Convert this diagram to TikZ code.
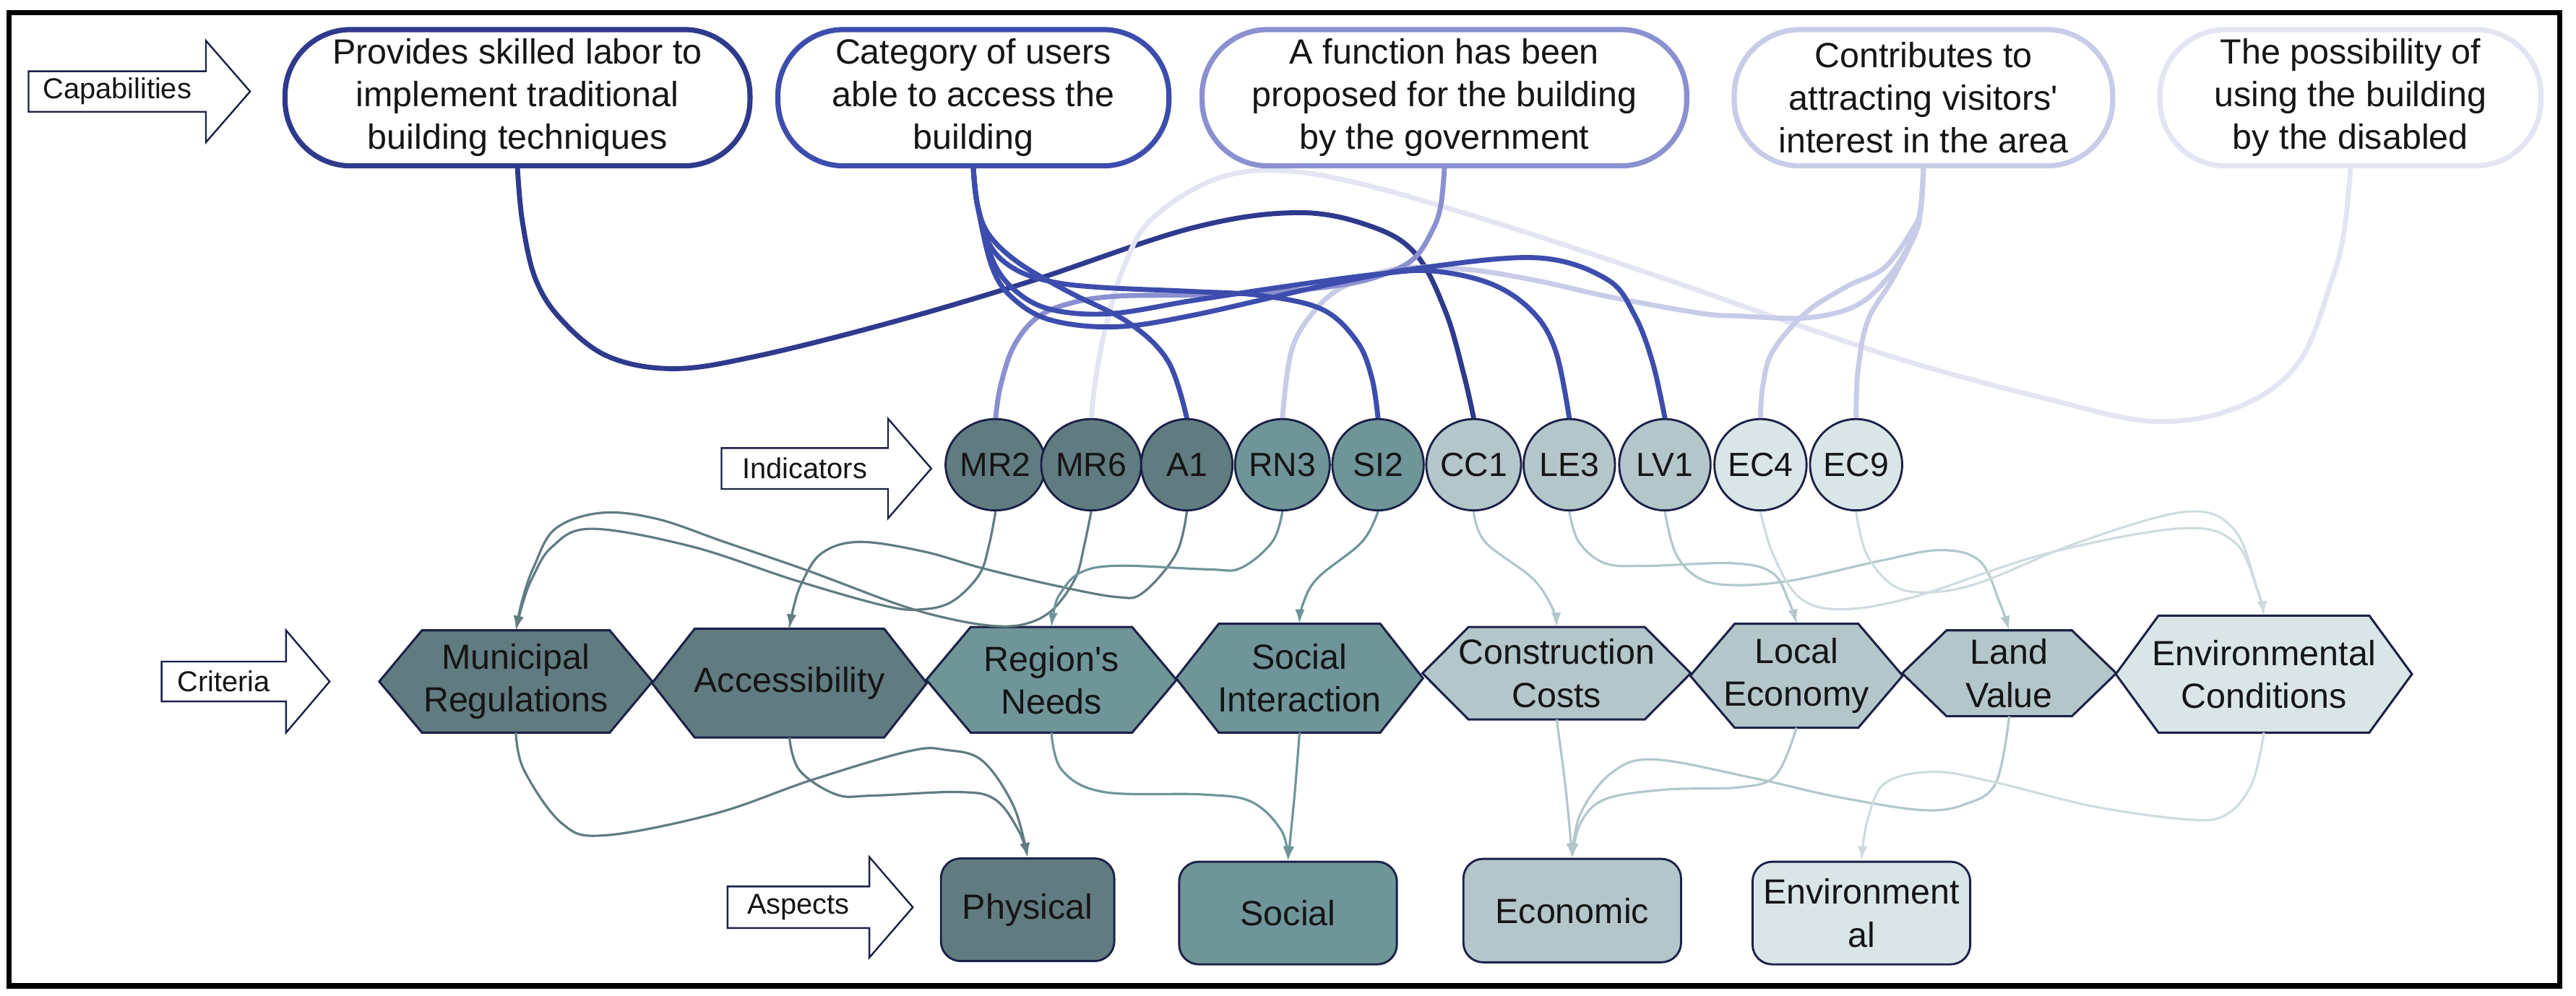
\documentclass[tikz,border=0pt]{standalone}
\usepackage{fontspec}
\setmainfont{Liberation Sans}
\usetikzlibrary{arrows.meta,shapes.geometric,backgrounds}
\definecolor{capA}{HTML}{2E3A8C}
\definecolor{capB}{HTML}{3C4DAD}
\definecolor{capC}{HTML}{8A90D0}
\definecolor{capD}{HTML}{C9CCE8}
\definecolor{capE}{HTML}{E4E5F3}
\definecolor{tDark}{HTML}{617C81}
\definecolor{tTeal}{HTML}{6F9599}
\definecolor{tLight}{HTML}{B3C7CB}
\definecolor{tPale}{HTML}{DAE5E7}
\definecolor{ePale}{HTML}{CFDCDF}
\definecolor{outl}{HTML}{1B2147}
\definecolor{txt}{HTML}{151515}
\tikzset{
  captxt/.style={font=\fontsize{30.3pt}{37pt}\selectfont, text=txt, align=center, inner sep=0pt},
  capbox/.style={captxt, draw=#1, fill=white, line width=4.5pt, rounded corners=20mm, minimum height=41.5mm},
  indic/.style={ellipse, draw=outl, line width=1.8pt, fill=#1, minimum width=27.8mm, minimum height=27.8mm, inner sep=0pt, font=\fontsize{29pt}{35pt}\selectfont, text=txt},
  critbox/.style={captxt},
  aspbox/.style={captxt, draw=outl, line width=1.8pt, fill=#1, rounded corners=6mm},
  lblline/.style={draw=outl, line width=1.5pt, line join=miter},
  lbltxt/.style={font=\fontsize{24.9pt}{30pt}\selectfont, text=txt, inner sep=0pt},
  topedge/.style={draw=#1, line width=4.3pt, line cap=round},
  midedge/.style={draw=#1, line width=2pt, -{Latex[length=12.5pt,width=8.5pt]}},
}
\newcommand\hexfill[3]{%
  \begin{pgfonlayer}{background}
  \draw[draw=outl, line width=1.9pt, fill=#3] (#1.west) -- ([xshift=#2]#1.north west) -- ([xshift=-#2]#1.north east) -- (#1.east) -- ([xshift=-#2]#1.south east) -- ([xshift=#2]#1.south west) -- cycle;
  \end{pgfonlayer}}
\newcommand\lblarrow[3]{%
  \draw[lblline] (#1.north west) -- (#1.north east) -- ([yshift=#2]#1.north east) -- ([xshift=#3]#1.east) -- ([yshift=-#2]#1.south east) -- (#1.south east) -- (#1.south west) -- cycle;}
\begin{document}
\begin{tikzpicture}[x=0.5mm, y=-0.5mm]
\useasboundingbox (0,0) rectangle (1568,606.5);
\begin{pgfonlayer}{background}
\fill[white] (0,0) rectangle (1568,606.5);
\end{pgfonlayer}

% label arrows
\node[lbltxt, minimum width=53.85mm, minimum height=12.2mm] (lCap) at (71.35,55.7) {Capabilities};
\lblarrow{lCap}{9.3mm}{13.45mm}
\node[lbltxt, minimum width=50.55mm, minimum height=12.3mm] (lInd) at (489.85,285.3) {Indicators};
\lblarrow{lInd}{8.95mm}{13.15mm}
\node[lbltxt, minimum width=37.75mm, minimum height=12mm] (lCri) at (136.25,415) {Criteria};
\lblarrow{lCri}{9.5mm}{13.25mm}
\node[lbltxt, minimum width=43mm, minimum height=12.5mm] (lAsp) at (486,552.5) {Aspects};
\lblarrow{lAsp}{9mm}{13.25mm}

% capabilities
\node[capbox=capA, minimum width=141.5mm] (c1) at (315,59.5) {Provides skilled labor to\\implement traditional\\building techniques};
\node[capbox=capB, minimum width=119mm] (c2) at (592.5,59.5) {Category of users\\able to access the\\building};
\node[capbox=capC, minimum width=147.5mm] (c3) at (879.2,59.5) {A function has been\\proposed for the building\\by the government};
\node[capbox=capD, minimum width=115.2mm] (c4) at (1170.8,59.5) {Contributes to\\attracting visitors\textquotesingle\\interest in the area};
\node[capbox=capE, minimum width=116mm] (c5) at (1430.7,59.5) {The possibility of\\using the building\\by the disabled};

% indicators
\node[indic=tDark] (MR2) at (606,283) {MR2};
\node[indic=tDark] (MR6) at (664.2,283) {MR6};
\node[indic=tDark] (A1) at (722.4,283) {A1};
\node[indic=tTeal] (RN3) at (780.6,283) {RN3};
\node[indic=tTeal] (SI2) at (838.8,283) {SI2};
\node[indic=tLight] (CC1) at (897,283) {CC1};
\node[indic=tLight] (LE3) at (955.2,283) {LE3};
\node[indic=tLight] (LV1) at (1013.4,283) {LV1};
\node[indic=tPale] (EC4) at (1071.6,283) {EC4};
\node[indic=tPale] (EC9) at (1129.8,283) {EC9};

% criteria
\node[critbox, minimum width=83mm, minimum height=31mm] (crMR) at (314,415) {Municipal\\Regulations};
\hexfill{crMR}{13mm}{tDark}
\node[critbox, minimum width=83.5mm, minimum height=33mm] (crA) at (480.5,416) {Accessibility};
\hexfill{crA}{13mm}{tDark}
\node[critbox, minimum width=76mm, minimum height=32mm] (crRN) at (640,414) {Region\textquotesingle s\\Needs};
\hexfill{crRN}{13.5mm}{tTeal}
\node[critbox, minimum width=75mm, minimum height=33mm] (crSI) at (791,413) {Social\\Interaction};
\hexfill{crSI}{13mm}{tTeal}
\node[critbox, minimum width=81.5mm, minimum height=28mm] (crCC) at (947.5,410) {Construction\\Costs};
\hexfill{crCC}{14mm}{tLight}
\node[critbox, minimum width=64.5mm, minimum height=31.5mm] (crLE) at (1093.5,411.5) {Local\\Economy};
\hexfill{crLE}{13.5mm}{tLight}
\node[critbox, minimum width=65mm, minimum height=26mm] (crLV) at (1223,410) {Land\\Value};
\hexfill{crLV}{13.5mm}{tLight}
\node[critbox, minimum width=90mm, minimum height=35.5mm] (crEC) at (1378,410.5) {Environmental\\Conditions};
\hexfill{crEC}{13mm}{tPale}

% aspects
\node[aspbox=tDark, minimum width=52.75mm, minimum height=31.25mm] (asPh) at (625.5,554) {Physical};
\node[aspbox=tTeal, minimum width=66.25mm, minimum height=31.25mm] (asSo) at (784,556) {Social};
\node[aspbox=tLight, minimum width=66.25mm, minimum height=31.5mm] (asEc) at (957,554.5) {Economic};
\node[aspbox=tPale, minimum width=66.25mm, minimum height=31.25mm] (asEn) at (1133,556) {Environment\\al};

% edges
\begin{pgfonlayer}{background}
\draw[topedge=capA] plot[smooth, tension=0.6] coordinates {(c1.south) (318,135) (326,170) (342,195) (370,217) (410,224.5) (460,217) (540,197) (625,172) (725,139) (790,129.5) (835,138) (862,155) (880,190) (891,228) (CC1.north)};
\draw[topedge=capE] plot[smooth, tension=0.6] coordinates {(c5.south) (1427,140) (1419.5,170) (1399,221) (1362,248) (1311,256.6) (1248,243.4) (1165.5,221.4) (1090,196.5) (1006,167.2) (922,139.3) (838,114.4) (782,104) (740,109) (701,133.4) (684,162.8) (673,199.4) (667,230) (MR6.north)};
\draw[topedge=capD] plot[smooth, tension=0.6] coordinates {(c4.south) (1169,128) (1163,147) (1150,168) (1130,186) (1100,193.5) (1060,192.5) (1034,190.6) (978,180.4) (936,171) (894,164.2) (852,163.5) (818,174.5) (799,190.6) (786,214) (RN3.north)};
\draw[topedge=capD] plot[smooth, tension=0.6] coordinates {(c4.south) (1169,128) (1164,140) (1147,163) (1124,174.5) (1099,190.6) (1079,214) (1073,235) (EC4.north)};
\draw[topedge=capD] plot[smooth, tension=0.6] coordinates {(c4.south) (1169,128) (1166,142) (1152,170) (1137,195) (1131,225) (EC9.north)};
\draw[topedge=capC] plot[smooth, tension=0.6] coordinates {(c3.south) (877,125) (872,140) (860,158) (838,168.6) (810,174.5) (768,178.2) (726,179.6) (679,180.4) (651,184.8) (631,193.6) (617,211) (609,235) (MR2.north)};
\draw[topedge=capB] plot[smooth, tension=0.6] coordinates {(c2.south) (595,125) (602,143) (620,160) (650,177.5) (687,196.5) (711,220) (A1.north)};
\draw[topedge=capB] plot[smooth, tension=0.6] coordinates {(c2.south) (595,125) (603,150) (618,164) (640,171.5) (670,175) (726,177.5) (768,180) (805,188.5) (826,208) (835,230) (SI2.north)};
\draw[topedge=capB] plot[smooth, tension=0.6] coordinates {(c2.south) (595,125) (604,158) (618,177) (640,188.5) (676,191) (726,183) (782,174.5) (838,167) (872,165) (908,173) (933,190) (947,214) (LE3.north)};
\draw[topedge=capB] plot[smooth, tension=0.6] coordinates {(c2.south) (595,125) (604,163) (617,182) (640,195) (679,199) (726,192) (810,173) (866,163) (936,157) (978,170) (995,192) (1006,221) (LV1.north)};

% indicators -> criteria
\draw[midedge=tDark] plot[smooth, tension=0.6] coordinates {(MR2.south) (602,332) (596,350) (580,366) (562,371) (539,369) (484,353.4) (421,332.8) (360,322) (336,333) (324,352) (318,368) (crMR.north)};
\draw[midedge=tDark] plot[smooth, tension=0.6] coordinates {(MR6.south) (660,332) (654.6,352) (641,371) (625,379.7) (605.6,381.2) (578,376.8) (546.6,368) (491.7,347.5) (440.6,329.9) (400,316) (366,312.3) (338,322) (325,345) (318,365) (crMR.north)};
\draw[midedge=tDark] plot[smooth, tension=0.6] coordinates {(A1.south) (716,337) (696,360.7) (680,363.6) (641,356.3) (598,346) (562,335.8) (523,330) (500,337) (488,355) (483,370) (crA.north)};
\draw[midedge=tTeal] plot[smooth, tension=0.6] coordinates {(RN3.south) (774.4,330) (755,346) (735,346.7) (680,344.5) (657,349) (645,362) (641.5,372) (crRN.north)};
\draw[midedge=tTeal] plot[smooth, tension=0.6] coordinates {(SI2.south) (829,330) (802,352) (793,368) (crSI.north)};
\draw[midedge=tLight] plot[smooth, tension=0.6] coordinates {(CC1.south) (904,330) (932.6,352) (944.8,370) (crCC.north)};
\draw[midedge=tLight] plot[smooth, tension=0.6] coordinates {(LE3.south) (961,330) (977,343) (1002,344.6) (1055,343) (1079,349) (1089,366.5) (crLE.north)};
\draw[midedge=tLight] plot[smooth, tension=0.6] coordinates {(LV1.south) (1020,337) (1034,352) (1055,356.3) (1091,353.4) (1144,341.6) (1181,335) (1205,341.6) (1217,366.5) (crLV.north)};
\draw[midedge=ePale] plot[smooth, tension=0.6] coordinates {(EC4.south) (1079,337) (1095,363.6) (1120,371) (1164.5,363.6) (1246,337) (1327,321.8) (1360,330) (1374,359) (crEC.north)};
\draw[midedge=ePale] plot[smooth, tension=0.6] coordinates {(EC9.south) (1136,337) (1152,356.3) (1173,360.7) (1205,354.8) (1266,330) (1331,311.6) (1360,322.6) (1374,359) (crEC.north)};

% criteria -> aspects
\draw[midedge=tDark] plot[smooth, tension=0.6] coordinates {(crMR.south) (319,469) (342,501.4) (368,508.7) (435,495.5) (494,475) (553.5,457.4) (576,456.7) (598,463.3) (617,491) (asPh.north)};
\draw[midedge=tDark] plot[smooth, tension=0.6] coordinates {(crA.south) (486.6,469) (509,483.8) (531,484.5) (583,482.3) (605.5,486.7) (620,505.8) (asPh.north)};
\draw[midedge=tTeal] plot[smooth, tension=0.6] coordinates {(crRN.south) (646.4,469) (672,482.3) (732,483.8) (761.6,488.2) (780,505.8) (asSo.north)};
\draw[midedge=tTeal] plot[smooth, tension=0.6] coordinates {(crSI.south) (788,484) (asSo.north)};
\draw[midedge=tLight] plot[smooth, tension=0.6] coordinates {(crCC.south) (953,480) (asEc.north)};
\draw[midedge=tLight] plot[smooth, tension=0.6] coordinates {(crLE.south) (1081,472) (1059,479.4) (1014,480.8) (977,486.7) (962,501.4) (asEc.north)};
\draw[midedge=tLight] plot[smooth, tension=0.6] coordinates {(crLV.south) (1215,476.5) (1196.5,489.6) (1170,493.3) (1118,485.2) (1066,473.5) (1007,462.5) (981,470.6) (962,495.5) (asEc.north)};
\draw[midedge=ePale] plot[smooth, tension=0.6] coordinates {(crEC.south) (1371,476.5) (1356,495.5) (1334,499.2) (1274.5,491.1) (1215,476.5) (1178,470) (1148,476.5) (1137,498.4) (asEn.north)};
\end{pgfonlayer}

% frame
\draw[line width=4.7pt] (5.4,7.6) rectangle (1558,600.4);
\end{tikzpicture}
\end{document}
